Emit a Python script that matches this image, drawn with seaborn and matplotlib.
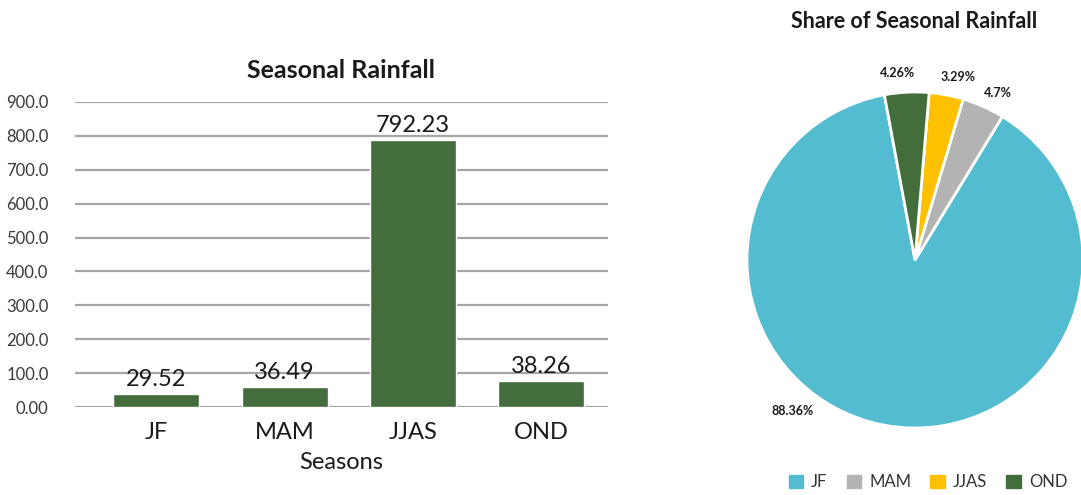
import matplotlib
matplotlib.use("Agg")
import matplotlib.pyplot as plt
import seaborn as sns
import numpy as np
import pandas as pd

# ---- data ----
seasons = ["JF", "MAM", "JJAS", "OND"]
bar_heights = [37.5, 58.0, 787.0, 76.0]
bar_value_labels = ["29.52", "36.49", "792.23", "38.26"]
y_ticks = [0, 100, 200, 300, 400, 500, 600, 700, 800, 900]
y_tick_labels = ["0.00", "100.0", "200.0", "300.0", "400.0", "500.0",
                 "600.0", "700.0", "800.0", "900.0"]
pie_shares = [88.36, 4.07, 3.29, 4.26]
pie_labels = ["88.36%", "4.7%", "3.29%", "4.26%"]

# ---- style ----
sns.set_theme(style="white")
plt.rcParams["font.family"] = ["Lato", "DejaVu Sans"]
BAR_GREEN = "#436E3B"
pie_colors = ["#53BCD0", "#B3B3B3", "#FFC000", "#436E3B"]
TXT = "#1a1a1a"

W, H = 1081, 495
fig = plt.figure(figsize=(W / 100, H / 100), dpi=100)

# ---- bar chart ----
axb = fig.add_axes([75 / W, (H - 407) / H, 533 / W, 305 / H])
df = pd.DataFrame({"Season": seasons, "Rain": bar_heights})
sns.barplot(data=df, x="Season", y="Rain", color=BAR_GREEN, saturation=1,
            width=0.67, ax=axb)
axb.set_ylim(0, 900)
axb.set_xlim(-0.633, 3.52)
axb.set_yticks(y_ticks)
axb.set_yticklabels(y_tick_labels, fontsize=12, color="#3a3a3a")
axb.yaxis.grid(True, color="#A6A6A6", linewidth=1.6)
axb.set_axisbelow(True)
for s in axb.spines.values():
    s.set_visible(False)
axb.tick_params(axis="y", length=0, pad=19)
axb.tick_params(axis="x", length=0, pad=11)
for t in axb.get_yticklabels():
    t.set_horizontalalignment("right")
axb.set_xticks(range(len(seasons)))
axb.set_xticklabels(seasons, fontsize=17, color=TXT)
axb.set_xlabel("Seasons", fontsize=17, color=TXT, labelpad=6)
axb.set_ylabel("")
axb.bar_label(axb.containers[0], labels=bar_value_labels, padding=3,
              fontsize=17, color=TXT)
fig.text(341 / W, 1 - 70 / H, "Seasonal Rainfall", ha="center", va="center",
         fontsize=18, fontweight="bold", color=TXT)

# ---- pie chart ----
R = 168
cx, cy = 915, 260
axp = fig.add_axes([(cx - R) / W, (H - cy - R) / H, 2 * R / W, 2 * R / H])
wedges, _ = axp.pie(pie_shares, colors=pie_colors, startangle=100.5,
                    counterclock=True, radius=1,
                    wedgeprops=dict(edgecolor="white", linewidth=2))
for w in wedges:
    w.set_clip_on(False)
axp.set_xlim(-1, 1)
axp.set_ylim(-1, 1)
axp.set_aspect("equal")
axp.axis("off")
# label placement (angle in degrees, distance in radii)
label_pos = [(231, 1.16), (63.6, 1.11), (76.8, 1.12), (95.5, 1.12)]
for (ang, dist), lab in zip(label_pos, pie_labels):
    a = np.deg2rad(ang)
    axp.text(dist * np.cos(a), dist * np.sin(a), lab, ha="center", va="center",
             fontsize=9, fontweight="bold", color=TXT, clip_on=False)
fig.text(914 / W, 1 - 21 / H, "Share of Seasonal Rainfall", ha="center",
         va="center", fontsize=15.5, fontweight="bold", color=TXT)

handles = [plt.Rectangle((0, 0), 1, 1, color=c) for c in pie_colors]
leg = fig.legend(handles, seasons, loc="center", bbox_to_anchor=(928 / W, 1 - 482 / H),
                 ncol=4, frameon=False, handlelength=0.85, handleheight=0.85,
                 columnspacing=1.15, handletextpad=0.5, borderpad=0.1,
                 prop={"size": 12})
for t in leg.get_texts():
    t.set_color("#333333")

fig.savefig("out.png", dpi=100)
